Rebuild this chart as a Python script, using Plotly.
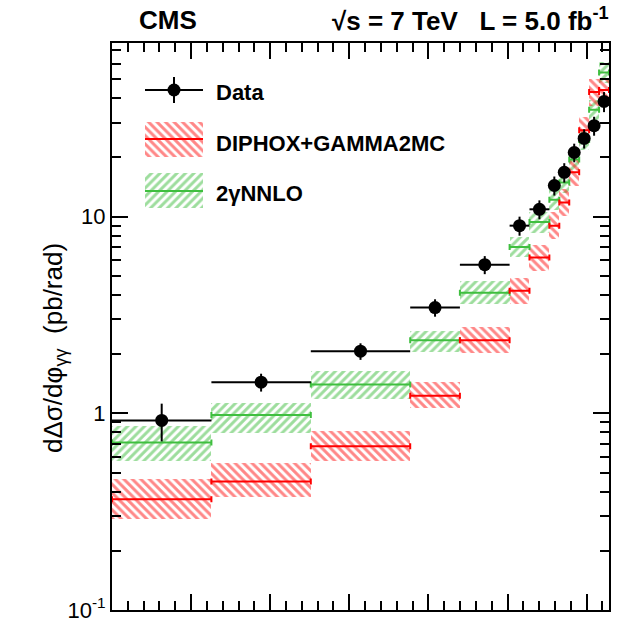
import numpy as np
import plotly.graph_objects as go

# ---------------- data ----------------
edges_pi = [0, 0.2, 0.4, 0.6, 0.7, 0.8, 0.84, 0.88, 0.9, 0.92, 0.94, 0.96, 0.98, 1.0]

data_val = [0.92, 1.44, 2.07, 3.45, 5.7, 9.0, 10.9, 14.4, 16.8, 21.2, 25.0, 29.0, 38.5]
data_err = [0.20, 0.15, 0.20, 0.35, 0.6, 1.0, 1.2, 1.6, 1.9, 2.3, 2.8, 3.2, 4.5]

diphox_val = [0.366, 0.45, 0.68, 1.23, 2.35, 4.2, 6.2, 9.0, 11.8, 16.8, 27.5, 43.0, 44.0]
diphox_lo = [0.29, 0.375, 0.57, 1.06, 2.03, 3.6, 5.3, 7.7, 10.1, 14.4, 23.5, 36.5, 37.5]
diphox_hi = [0.465, 0.56, 0.81, 1.45, 2.74, 4.9, 7.2, 10.5, 13.8, 19.6, 32.0, 50.0, 51.0]

nnlo_val = [0.71, 0.98, 1.40, 2.35, 4.1, 7.0, 9.4, 12.2, 14.9, 19.5, 24.5, 35.0, 54.0]
nnlo_lo = [0.57, 0.79, 1.18, 2.05, 3.6, 6.2, 8.3, 10.8, 13.2, 17.3, 21.7, 31.0, 48.0]
nnlo_hi = [0.86, 1.13, 1.65, 2.62, 4.7, 7.9, 10.6, 13.7, 16.7, 21.9, 27.5, 39.0, 61.0]

yticks = [0.1, 1, 10]
ytick_text = ["10<sup>-1</sup>", "1", "10"]

# ---------------- derived ----------------
edges = np.array(edges_pi) * np.pi
centers = (edges[:-1] + edges[1:]) / 2
widths = edges[1:] - edges[:-1]

RED = "#ff0000"
RED_H = "#ff1010"
GREEN = "#3fbf3f"
GREEN_H = "#3cbc3c"
FONT = "Liberation Sans, Arial, Helvetica, sans-serif"

# plot area in pixels (for placing annotations / legend)
W, H = 619, 624
L_, R_, T_, B_ = 112, 609, 43, 610


def px(x):
    return (x - L_) / (R_ - L_)


def py(y):
    return (B_ - y) / (B_ - T_)


fig = go.Figure()

PAT_SIZE = 6
PAT_SOL = 0.5


def band(lo, hi, fg, shape):
    lo = np.array(lo)
    hi = np.array(hi)
    return go.Bar(
        x=centers, y=hi - lo, base=lo, width=widths,
        marker=dict(color="rgba(0,0,0,0)", line=dict(width=0),
                    pattern=dict(shape=shape, fgcolor=fg, bgcolor="rgba(0,0,0,0)",
                                 size=PAT_SIZE, solidity=PAT_SOL, fillmode="overlay")),
        showlegend=False, hoverinfo="skip")


def central(val, col):
    return go.Scatter(
        x=centers, y=val, mode="markers",
        marker=dict(size=1, color=col, opacity=0),
        error_x=dict(type="data", array=widths / 2, color=col, thickness=2, width=3),
        showlegend=False, hoverinfo="skip")


fig.add_trace(band(nnlo_lo, nnlo_hi, GREEN_H, "/"))
fig.add_trace(band(diphox_lo, diphox_hi, RED_H, "\\"))
fig.add_trace(central(nnlo_val, GREEN))
fig.add_trace(central(diphox_val, RED))

fig.add_trace(go.Scatter(
    x=centers, y=data_val, mode="markers",
    marker=dict(size=13, color="black"),
    error_y=dict(type="data", array=data_err, color="black", thickness=2, width=0),
    error_x=dict(type="data", array=widths / 2, color="black", thickness=2, width=0),
    showlegend=False))

# ---------------- custom legend on an overlay axis ----------------
def leg_box(y0, y1, fg, shape):
    x0, x1 = px(145), px(203)
    return go.Bar(x=[(x0 + x1) / 2], y=[py(y0) - py(y1)], base=[py(y1)], width=[x1 - x0],
                  xaxis="x2", yaxis="y2",
                  marker=dict(color="rgba(0,0,0,0)", line=dict(width=0),
                              pattern=dict(shape=shape, fgcolor=fg, bgcolor="rgba(0,0,0,0)",
                                           size=PAT_SIZE, solidity=PAT_SOL, fillmode="overlay")),
                  showlegend=False, hoverinfo="skip")


def leg_line(y, col):
    return go.Scatter(x=[px(145), px(203)], y=[py(y), py(y)], mode="lines",
                      xaxis="x2", yaxis="y2", line=dict(color=col, width=2),
                      showlegend=False, hoverinfo="skip")


fig.add_trace(leg_box(122, 157, RED_H, "\\"))
fig.add_trace(leg_line(139, RED))
fig.add_trace(leg_box(173, 208, GREEN_H, "/"))
fig.add_trace(leg_line(191, GREEN))
fig.add_trace(go.Scatter(x=[px(174)], y=[py(90)], mode="markers", xaxis="x2", yaxis="y2",
                         marker=dict(size=13, color="black"),
                         error_x=dict(type="constant", value=px(203) - px(174), thickness=2,
                                      width=0, color="black"),
                         error_y=dict(type="constant", value=py(77) - py(90), thickness=2,
                                      width=0, color="black"),
                         showlegend=False, hoverinfo="skip"))

ann = []
ann.append(dict(text="<b>CMS</b>", x=px(168), y=py(20), xref="paper", yref="paper",
                xanchor="center", yanchor="middle", showarrow=False,
                font=dict(family=FONT, size=26, color="black")))
ann.append(dict(text="<b>\u221as = 7 TeV   L = 5.0 fb<sup>-1</sup></b>", x=px(611), y=py(20),
                xref="paper", yref="paper", xanchor="right", yanchor="middle", showarrow=False,
                font=dict(family=FONT, size=26, color="black")))
for label, yy in [("Data", 92), ("DIPHOX+GAMMA2MC", 143), ("2\u03b3NNLO", 193)]:
    ann.append(dict(text="<b>%s</b>" % label, x=px(214), y=py(yy), xref="paper", yref="paper",
                    xanchor="left", yanchor="middle", showarrow=False,
                    font=dict(family=FONT, size=22, color="black")))
ann.append(dict(text="d\u0394\u03c3/d\u03c6<sub>\u03b3\u03b3</sub>  (pb/rad)", x=px(54), y=py(348),
                xref="paper", yref="paper", xanchor="center", yanchor="middle",
                textangle=-90, showarrow=False,
                font=dict(family=FONT, size=26, color="black")))

minor_y = [m * 10 ** e for e in (-1, 0, 1) for m in range(2, 10) if m * 10 ** e < 80]

fig.update_layout(
    width=W, height=H,
    margin=dict(l=L_, r=W - R_, t=T_, b=H - B_, autoexpand=False),
    paper_bgcolor="white", plot_bgcolor="white",
    barmode="overlay", bargap=0,
    annotations=ann,
    font=dict(family=FONT, color="black"),
    xaxis=dict(range=[0, np.pi], showgrid=False, zeroline=False, automargin=False,
               showline=True, linecolor="black", linewidth=2, mirror="ticks",
               ticks="inside", ticklen=16, tickwidth=1.5, tickcolor="black",
               tick0=0, dtick=0.5, showticklabels=False,
               minor=dict(ticks="inside", ticklen=9, tickwidth=1.5, tickcolor="black",
                          dtick=0.1, tick0=0)),
    yaxis=dict(type="log", range=[-1, 1.883], showgrid=False, zeroline=False, automargin=False,
               showline=True, linecolor="black", linewidth=2, mirror="ticks",
               ticks="inside", ticklen=16, tickwidth=1.5, tickcolor="black",
               tickvals=yticks, ticktext=ytick_text,
               tickfont=dict(family=FONT, size=22, color="black"),
               minor=dict(ticks="inside", ticklen=9, tickwidth=1.5, tickcolor="black",
                          tickvals=minor_y)),
    xaxis2=dict(range=[0, 1], overlaying="x", visible=False, fixedrange=True),
    yaxis2=dict(range=[0, 1], overlaying="y", visible=False, fixedrange=True),
)

fig.write_html("out.html")
